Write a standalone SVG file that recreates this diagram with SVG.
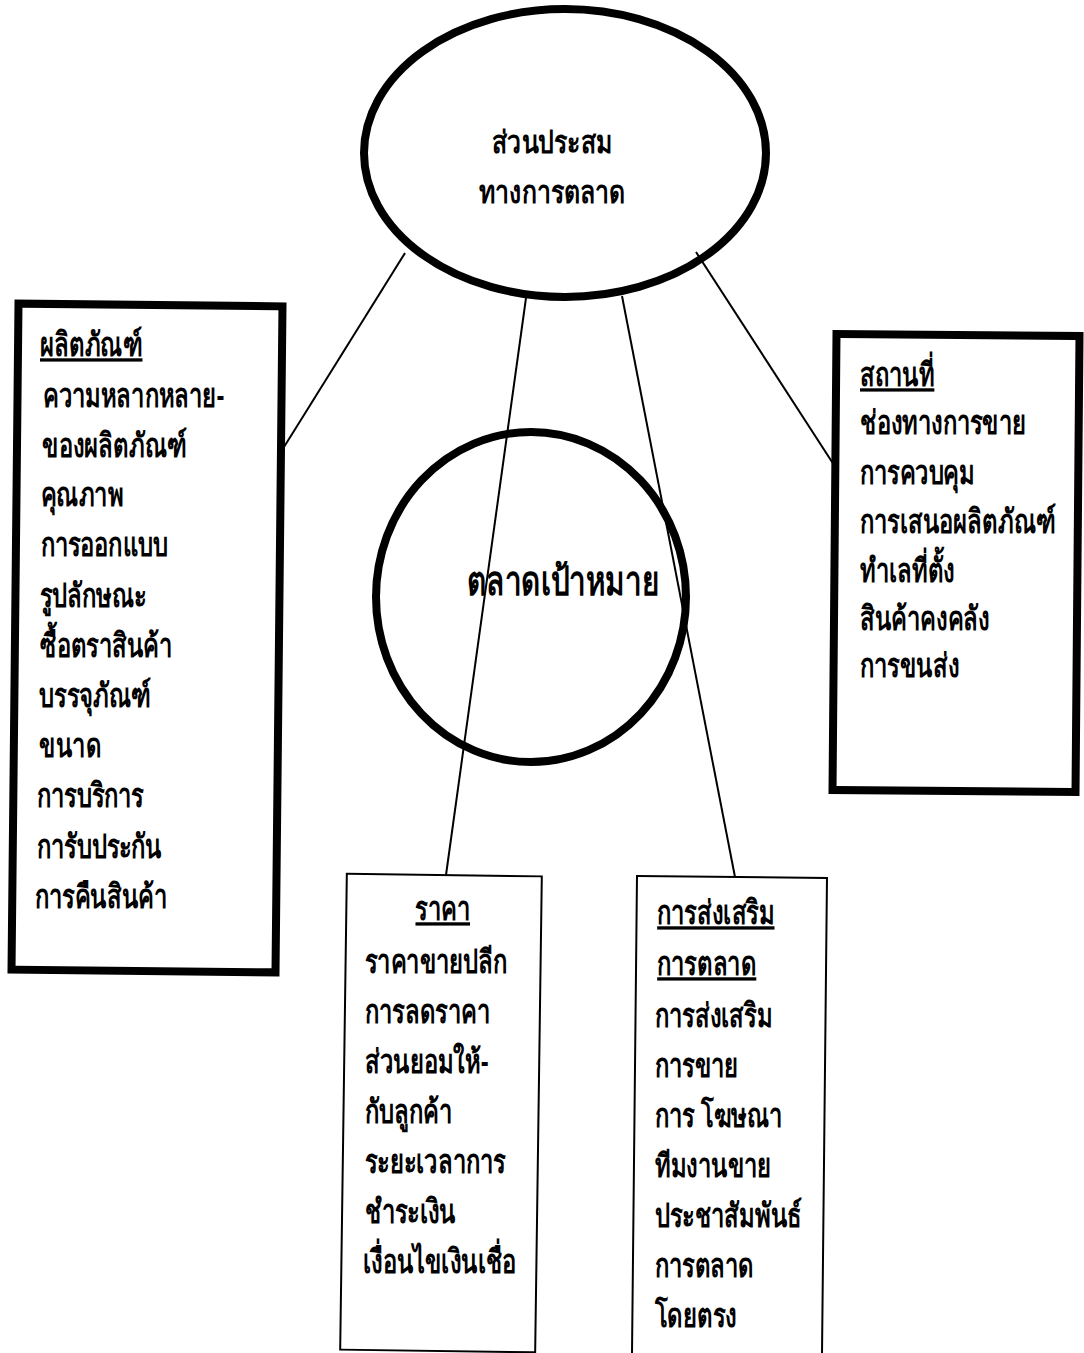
<svg xmlns="http://www.w3.org/2000/svg" width="1084" height="1353" viewBox="0 0 1084 1353">
<style>
text{font-family:"Liberation Sans","DejaVu Sans",sans-serif;font-weight:bold;fill:#000;}
.t{font-size:33px;}
.h{font-size:33px;text-decoration:underline;}
.c{font-size:31px;text-anchor:middle;}
.big{font-size:40px;text-anchor:middle;}
.thick{fill:#fff;stroke:#000;stroke-width:8;}
.thin{fill:#fff;stroke:#000;stroke-width:2;}
.ln{stroke:#000;stroke-width:2;fill:none;}
</style>
<rect width="1084" height="1353" fill="#fff"/>
<g id="mix">
<ellipse class="thick" cx="565" cy="153" rx="201" ry="144"/>
<g transform="translate(552,0) scale(0.8,1)">
<text class="c" x="0" y="153">ส่วนประสม</text>
<text class="c" x="0" y="203">ทางการตลาด</text>
</g>
</g>
<g id="target">
<ellipse class="thick" cx="531" cy="597" rx="155" ry="165" stroke-width="9"/>
<g transform="translate(563,0) scale(0.74,1)">
<text class="big" x="0" y="595">ตลาดเป้าหมาย</text>
</g>
</g>
<g id="product">
<rect class="thick" x="15" y="305" width="264" height="666" transform="rotate(0.6 147 638)"/>
<g transform="translate(40,0) scale(0.72,1)">
<text class="h" x="0" y="356">ผลิตภัณฑ์</text>
<text class="t" x="4" y="407">ความหลากหลาย-</text>
<text class="t" x="3" y="457">ของผลิตภัณฑ์</text>
<text class="t" x="1" y="506">คุณภาพ</text>
<text class="t" x="1" y="556">การออกแบบ</text>
<text class="t" x="0" y="607">รูปลักษณะ</text>
<text class="t" x="0" y="657">ซื้อตราสินค้า</text>
<text class="t" x="-1" y="707">บรรจุภัณฑ์</text>
<text class="t" x="-1" y="757">ขนาด</text>
<text class="t" x="-4" y="807">การบริการ</text>
<text class="t" x="-4" y="858">การับประกัน</text>
<text class="t" x="-7" y="908">การคืนสินค้า</text>
</g>
</g>
<g id="place">
<rect class="thick" x="834.5" y="335" width="243" height="456" stroke-width="7" transform="rotate(0.5 956 563)"/>
<g transform="translate(860,0) scale(0.72,1)">
<text class="h" x="0" y="386">สถานที่</text>
<text class="t" x="0" y="434">ช่องทางการขาย</text>
<text class="t" x="0" y="484">การควบคุม</text>
<text class="t" x="0" y="533">การเสนอผลิตภัณฑ์</text>
<text class="t" x="0" y="582">ทำเลที่ตั้ง</text>
<text class="t" x="0" y="630">สินค้าคงคลัง</text>
<text class="t" x="0" y="677">การขนส่ง</text>
</g>
</g>
<g id="price">
<rect class="thin" x="343.5" y="875" width="195" height="476" transform="rotate(0.8 441 1113)"/>
<g transform="translate(365,0) scale(0.72,1)">
<text class="h" x="108" y="920" text-anchor="middle">ราคา</text>
<text class="t" x="0" y="973">ราคาขายปลีก</text>
<text class="t" x="0" y="1023">การลดราคา</text>
<text class="t" x="0" y="1073">ส่วนยอมให้-</text>
<text class="t" x="0" y="1123">กับลูกค้า</text>
<text class="t" x="0" y="1173">ระยะเวลาการ</text>
<text class="t" x="0" y="1223">ชำระเงิน</text>
<text class="t" x="-3" y="1273">เงื่อนไขเงินเชื่อ</text>
</g>
</g>
<g id="promotion">
<rect class="thin" x="634.5" y="877" width="190" height="490" transform="rotate(0.6 729.5 1115)"/>
<g transform="translate(655,0) scale(0.72,1)">
<text class="h" x="3" y="924">การส่งเสริม</text>
<text class="h" x="3" y="975">การตลาด</text>
<text class="t" x="0" y="1027">การส่งเสริม</text>
<text class="t" x="0" y="1077">การขาย</text>
<text class="t" x="0" y="1127">การ โฆษณา</text>
<text class="t" x="0" y="1177">ทีมงานขาย</text>
<text class="t" x="0" y="1227">ประชาสัมพันธ์</text>
<text class="t" x="0" y="1277">การตลาด</text>
<text class="t" x="0" y="1327">โดยตรง</text>
</g>
</g>
<g id="connectors">
<line class="ln" x1="405" y1="253" x2="284" y2="447"/>
<line class="ln" x1="526" y1="298" x2="446" y2="875"/>
<line class="ln" x1="622" y1="296" x2="735" y2="877"/>
<line class="ln" x1="696" y1="252" x2="834" y2="465"/>
</g>
</svg>
